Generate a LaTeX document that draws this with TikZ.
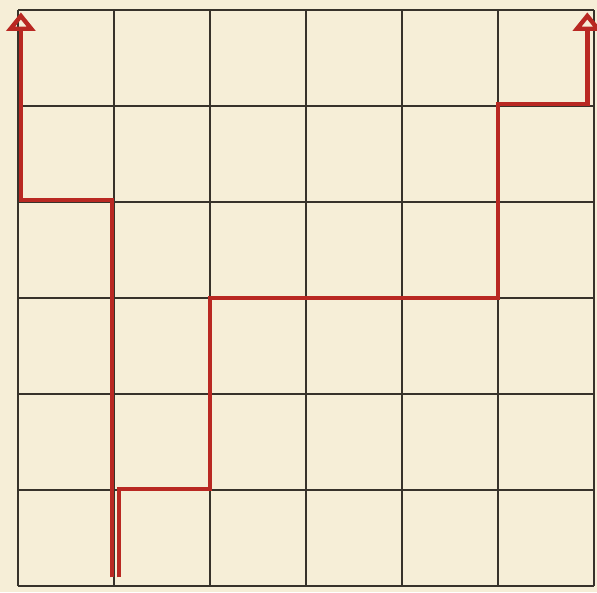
\documentclass[tikz,border=0pt]{standalone}
\usetikzlibrary{arrows.meta}
\definecolor{paper}{RGB}{246,238,215}
\definecolor{gridline}{RGB}{55,50,42}
\definecolor{routered}{RGB}{185,40,34}

\begin{document}
\begin{tikzpicture}[
    gridrule/.style={draw=gridline, line width=0.45pt},
    route/.style={draw=routered, line width=1.3pt, -{Triangle[open, width=8.5pt, length=5.5pt]}}
]

\fill[paper] (-0.1875,-0.0625) rectangle (6.031,6.104);
\useasboundingbox (-0.1875,-0.0625) rectangle (6.031,6.104);
\draw[gridrule] (0,0) grid (6,6);

% both routes leave from the bottom edge
\coordinate (startL) at (0.98,0.09);
\coordinate (startR) at (1.05,0.09);
\coordinate (exitL) at (0.03,5.975);
\coordinate (exitR) at (5.93,5.975);

\draw[route] (startL) |- (0.03,4.02) -- (exitL);
\draw[route] (startR) |- (2,1.01) |- (5,3) |- (5.93,5.02) -- (exitR);

\end{tikzpicture}
\end{document}
